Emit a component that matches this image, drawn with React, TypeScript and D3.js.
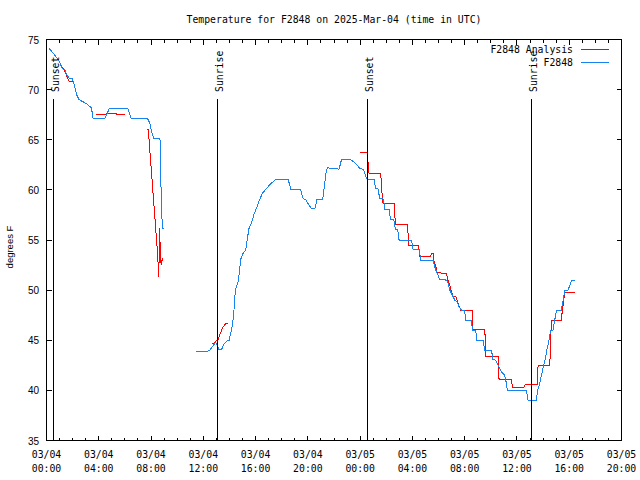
import React, { useEffect } from "react";
import * as d3 from "d3";

// hours since 03/04 00:00 UTC, temperature in °F
const obsSeg1: [number, number][] = [
  [0.2, 74.1], [0.5, 73.67], [0.89, 73.0], [1.02, 72.67], [1.22, 72.07], [1.4, 72.0],
  [1.53, 71.5], [1.78, 71.07], [1.99, 71.07], [2.11, 70.5], [2.3, 69.5], [2.49, 69.0],
  [3.06, 68.6], [3.44, 68.17], [3.57, 67.1], [4.46, 67.1], [4.79, 68.07], [6.24, 68.07],
  [6.5, 67.07], [7.75, 67.07], [7.9, 66.67], [8.03, 65.83], [8.21, 65.1], [8.67, 65.1],
  [8.72, 64.67], [8.75, 61.17], [8.8, 57.67], [8.9, 56.17], [9.0, 56.07],
];

const obsSeg2: [number, number][] = [
  [11.42, 43.9], [12.34, 43.9], [12.49, 44.0], [12.72, 44.4], [12.95, 44.8], [13.18, 44.1],
  [13.41, 44.1], [13.56, 44.6], [13.79, 44.9], [13.97, 45.0], [14.15, 46.0], [14.25, 46.7],
  [14.33, 47.67], [14.41, 49.33], [14.48, 50.17], [14.66, 50.83], [14.79, 52.0], [14.84, 53.0],
  [15.04, 53.67], [15.25, 54.0], [15.35, 55.0], [15.5, 56.17], [15.55, 56.33], [15.71, 56.8],
  [15.86, 57.5], [16.01, 58.0], [16.17, 58.5], [16.32, 59.07], [16.53, 59.67], [16.78, 60.07],
  [17.08, 60.5], [17.54, 61.07], [18.49, 61.07], [18.69, 60.07], [19.43, 60.07], [19.63, 59.17],
  [19.84, 59.0], [20.07, 58.5], [20.3, 58.1], [20.53, 58.1], [20.7, 59.07], [21.14, 59.07],
  [21.42, 62.0], [21.52, 62.2], [22.39, 62.07], [22.57, 63.0], [23.21, 63.07], [23.59, 62.7],
  [23.97, 62.17], [24.28, 62.0], [24.43, 61.33], [24.53, 61.07], [25.07, 61.07], [25.17, 60.17],
  [25.35, 60.17], [25.5, 59.17], [25.73, 59.17], [25.83, 58.67], [25.85, 58.07], [26.21, 58.07],
  [26.32, 57.07], [26.57, 57.07], [26.7, 56.0], [26.88, 56.0], [26.98, 55.0], [27.93, 55.0],
  [28.05, 54.1], [28.51, 54.1], [28.64, 53.0], [29.58, 53.0], [29.71, 52.33], [29.84, 51.83],
  [30.09, 51.07], [30.6, 51.0], [30.73, 50.67], [30.86, 50.0], [31.06, 49.5], [31.24, 49.0],
  [31.42, 48.83], [31.57, 48.33], [31.75, 48.0], [32.0, 48.0], [32.06, 47.0], [32.52, 47.0],
  [32.59, 46.0], [32.84, 46.0], [32.94, 45.0], [33.4, 45.0], [33.53, 44.0], [34.05, 44.0],
  [34.17, 43.07], [34.38, 43.0], [34.55, 42.5], [34.81, 41.83], [35.06, 41.5], [35.19, 40.73],
  [35.27, 40.0], [36.73, 40.0], [36.85, 39.0], [37.49, 39.0], [37.57, 40.0], [37.74, 40.67],
  [37.87, 41.5], [38.05, 42.5], [38.2, 43.33], [38.3, 44.17], [38.38, 44.5], [38.51, 45.5],
  [38.58, 46.0], [38.76, 46.0], [38.89, 47.0], [39.02, 48.0], [39.4, 48.0], [39.66, 50.0],
  [39.91, 50.0], [40.17, 50.93], [40.42, 50.93],
];

const anaSeg1: [number, number][] = [
  [1.07, 72.5], [1.4, 71.83], [1.73, 70.83], [2.04, 70.83],
];

const anaSeg2: [number, number][] = [
  [3.77, 67.5], [4.46, 67.5], [4.59, 67.6], [5.36, 67.6], [5.4, 67.5], [5.99, 67.5],
];

const anaSeg3: [number, number][] = [
  [7.7, 66.07], [7.77, 66.07], [7.83, 65.33], [7.9, 64.0], [7.98, 62.67], [8.06, 61.33],
  [8.13, 60.0], [8.21, 58.67], [8.29, 57.33], [8.36, 56.0], [8.44, 54.67], [8.52, 53.33],
  [8.57, 51.33], [8.62, 53.0], [8.67, 56.23], [8.69, 54.5], [8.72, 54.2], [8.77, 52.5],
  [8.82, 52.8], [8.87, 53.2], [8.92, 53.0],
];

const anaSeg4: [number, number][] = [
  [12.65, 44.6], [12.88, 44.8], [13.13, 45.07], [13.34, 45.8], [13.51, 46.33], [13.72, 46.67],
  [13.89, 46.67],
];

const anaSeg5: [number, number][] = [
  [23.97, 63.77], [24.53, 63.77], [24.58, 63.17], [24.68, 61.67], [25.58, 61.67], [25.63, 60.33],
  [25.75, 58.67], [26.6, 58.67], [26.7, 56.5], [26.82, 56.57], [27.62, 56.57], [27.72, 54.5],
  [28.46, 54.5], [28.56, 53.33], [29.38, 53.33], [29.48, 53.67], [29.58, 53.67], [29.66, 52.83],
  [29.79, 52.4], [29.89, 51.73], [30.6, 51.67], [30.73, 50.93], [30.86, 50.5], [30.99, 49.83],
  [31.11, 49.4], [31.32, 49.33], [31.42, 49.0], [31.49, 48.67], [31.7, 48.0], [32.56, 48.0],
  [32.64, 46.07], [33.54, 46.07], [33.59, 44.5], [33.61, 43.4], [34.55, 43.4], [34.63, 41.1],
  [35.58, 41.1], [35.65, 40.33], [36.54, 40.33], [36.62, 40.57], [37.54, 40.57], [37.62, 42.5],
  [38.51, 42.5], [38.58, 44.67], [38.63, 46.93], [39.4, 46.93], [39.47, 48.0], [39.57, 48.83],
  [39.64, 49.73], [40.42, 49.73],
];

const obsSegments = [obsSeg1, obsSeg2];
const anaSegments = [anaSeg1, anaSeg2, anaSeg3, anaSeg4, anaSeg5];

const sunEvents = [
  { h: 0.52, label: "Sunset" },
  { h: 13.07, label: "Sunrise" },
  { h: 24.6, label: "Sunset" },
  { h: 37.08, label: "Sunrise" },
];

const xTickHours = [0, 4, 8, 12, 16, 20, 24, 28, 32, 36, 40, 44];
const xTickDates = ["03/04", "03/04", "03/04", "03/04", "03/04", "03/04", "03/05", "03/05", "03/05", "03/05", "03/05", "03/05"];
const xTickTimes = ["00:00", "04:00", "08:00", "12:00", "16:00", "20:00", "00:00", "04:00", "08:00", "12:00", "16:00", "20:00"];
const yTicks = [35, 40, 45, 50, 55, 60, 65, 70, 75];

const title = "Temperature for F2848 on 2025-Mar-04 (time in UTC)";
const yLabel = "degrees F";
const seriesNames = ["F2848 Analysis", "F2848"];
const RED = "#ff0000";
const BLUE = "#1584f0";

const MONO = "'DejaVu Sans Mono', 'Liberation Mono', monospace";
const SANS = "'Liberation Sans', Arial, sans-serif";

export default function App() {
  useEffect(() => {
    document.body.style.margin = "0";
  }, []);

  const L = 46.5, R = 621.5, T = 39.5, B = 440.5;
  const x = d3.scaleLinear().domain([0, 44]).range([L, R]);
  const y = d3.scaleLinear().domain([35, 75]).range([B, T]);
  const line = d3.line<[number, number]>().x((d) => x(d[0])).y((d) => y(d[1]));
  const px = (v: number) => Math.round(v - 0.5) + 0.5;

  const minorHours = d3.range(0, 45, 1).filter((h) => h % 4 !== 0);

  return (
    <svg width={640} height={480} style={{ display: "block", position: "absolute", left: 0, top: 0, background: "#fff" }}>
      <rect x={0} y={0} width={640} height={480} fill="#fff" />
      <text x={334} y={23} textAnchor="middle" fontFamily={MONO} fontSize={9.8} fill="#000">{title}</text>

      {/* data */}
      <g fill="none" strokeWidth={1} shapeRendering="crispEdges">
        {anaSegments.map((s, i) => (
          <path key={"a" + i} d={line(s) || ""} stroke={RED} />
        ))}
        {obsSegments.map((s, i) => (
          <path key={"o" + i} d={line(s) || ""} stroke={BLUE} />
        ))}
      </g>

      {/* sun events */}
      {sunEvents.map((e, i) => (
        <g key={"s" + i}>
          <line x1={px(x(e.h))} x2={px(x(e.h))} y1={99} y2={B} stroke="#000" shapeRendering="crispEdges" />
          <text transform={`translate(${px(x(e.h)) + 5},92) rotate(-90)`} textAnchor="start" fontFamily={MONO} fontSize={9.8} fill="#000">{e.label}</text>
        </g>
      ))}

      {/* axes box and ticks */}
      <g stroke="#000" strokeWidth={1} shapeRendering="crispEdges">
        <rect x={L} y={T} width={R - L} height={B - T} fill="none" />
        {xTickHours.map((h) => (
          <g key={"xt" + h}>
            <line x1={px(x(h))} x2={px(x(h))} y1={B} y2={B - 5} />
            <line x1={px(x(h))} x2={px(x(h))} y1={T} y2={T + 5} />
          </g>
        ))}
        {minorHours.map((h) => (
          <g key={"xm" + h}>
            <line x1={px(x(h))} x2={px(x(h))} y1={B} y2={B - 3} />
            <line x1={px(x(h))} x2={px(x(h))} y1={T} y2={T + 3} />
          </g>
        ))}
        {yTicks.map((t) => (
          <g key={"yt" + t}>
            <line x1={L} x2={L + 5} y1={px(y(t))} y2={px(y(t))} />
            <line x1={R} x2={R - 5} y1={px(y(t))} y2={px(y(t))} />
          </g>
        ))}
      </g>

      {yTicks.map((t) => (
        <text key={"yl" + t} x={39} y={y(t) + 4} textAnchor="end" fontFamily={SANS} fontSize={10} fill="#000">{t}</text>
      ))}
      {xTickHours.map((h, i) => (
        <g key={"xl" + h}>
          <text x={x(h)} y={458} textAnchor="middle" fontFamily={MONO} fontSize={9.8} fill="#000">{xTickDates[i]}</text>
          <text x={x(h)} y={472} textAnchor="middle" fontFamily={MONO} fontSize={9.8} fill="#000">{xTickTimes[i]}</text>
        </g>
      ))}

      <text transform="translate(13,247) rotate(-90)" textAnchor="middle" fontFamily={SANS} fontSize={9.5} fill="#000">{yLabel}</text>

      {/* legend */}
      <g>
        <text x={573} y={53} textAnchor="end" fontFamily={MONO} fontSize={9.8} fill="#000">{seriesNames[0]}</text>
        <line x1={581} x2={609} y1={49.5} y2={49.5} stroke={RED} shapeRendering="crispEdges" />
        <text x={573} y={66} textAnchor="end" fontFamily={MONO} fontSize={9.8} fill="#000">{seriesNames[1]}</text>
        <line x1={581} x2={609} y1={62.5} y2={62.5} stroke={BLUE} shapeRendering="crispEdges" />
      </g>
    </svg>
  );
}
